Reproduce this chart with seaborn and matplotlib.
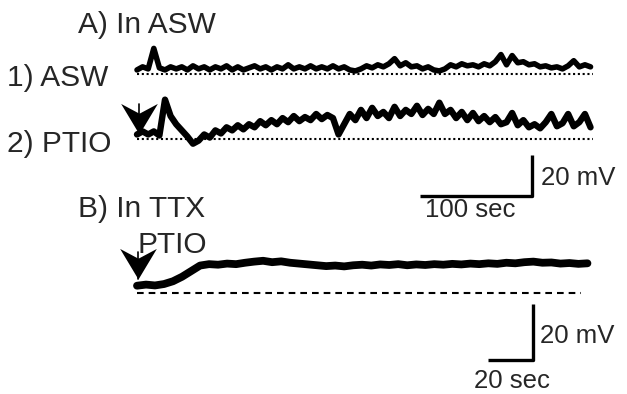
import numpy as np
import matplotlib
matplotlib.use("Agg")
import matplotlib.pyplot as plt
from matplotlib.path import Path
import seaborn as sns

# Panel A : enregistrements en ASW (mV au-dessus de la ligne de base), échantillon toutes les 5 s
dt_a = 5
asw_mv = [1.5, 3, 2, 12, 2.5, 1.5, 3, 2, 3, 1.5, 3.5, 2, 3, 1.5, 3, 2, 3.5, 1.5, 3, 1.5,
          2.5, 3.5, 2, 3, 1.5, 3, 2, 4, 2, 3,
          2, 3.5, 2, 3, 2, 3.5, 2, 3, 1.5, 1, 2, 3.5, 2.5, 4, 3, 4.5, 7, 3.5, 5, 3,
          3.5, 2, 3, 1.5, 1, 2, 4, 3, 4.5, 3.5, 4, 3, 4.5, 3.5, 5.5, 9, 4, 8.5, 5, 5.5,
          4, 4.5, 3, 3.5, 2.5, 3, 2, 3.5, 6, 3, 4, 3]
ptio_mv = [2, 3.5, 2, 3.5, 1.5, 19,
           11, 7, 4, 1, -2.5, -1, 2, 0.5, 4, 2.5, 5.5, 4, 6.5, 4.5, 7,
           5.5, 8.5, 6.5, 9, 7, 10, 8, 11, 8.5, 10.5, 9, 12, 9.5, 11.5, 10,
           2, 7, 12, 9, 14, 10, 15, 11, 13, 10, 15.5, 11, 14, 12, 16,
           11.5, 14.5, 12, 17.5, 12, 14, 10, 13, 9, 12.5, 8.5, 11, 8, 10.5, 7,
           8, 12.5, 6.5, 9, 5.5, 7, 5, 8, 12, 6, 7.5, 12, 6, 8, 12, 5.5]
ptio_offset = -32  # décalage vertical de la trace 2

# Panel B : en TTX, échantillon toutes les 4 s
dt_b = 4
ttx_mv = [2.6, 3.0, 2.7, 3.2, 4.2, 5.8, 7.8, 9.8, 10.3, 10.1,
          10.5, 10.3, 10.8, 11.2, 11.5, 11.0, 11.3, 10.8, 10.5, 10.2,
          9.9, 9.6, 9.8, 9.5, 9.9, 10.1, 9.8, 10.2, 10.0, 10.3,
          9.9, 10.2, 10.0, 10.3, 10.1, 10.4, 10.2, 10.5, 10.3, 10.6,
          10.4, 10.8, 10.6, 11.0, 11.2, 10.8, 10.9, 10.5, 10.7, 10.4, 10.6]

t_asw = np.arange(len(asw_mv)) * dt_a
t_ptio = np.arange(len(ptio_mv)) * dt_a
t_ttx = np.arange(len(ttx_mv)) * dt_b

sns.set_style("white")
plt.rcParams["font.family"] = ["Liberation Sans", "DejaVu Sans"]

W, H = 627, 394
fig = plt.figure(figsize=(W / 100, H / 100), dpi=100)


def fx(px):
    return px / W


def fy(py):
    return 1 - py / H


# pointe de flèche en chevron (pointe à l'origine)
chevron = Path([(0, 0), (-0.6, 1), (0, 0.68), (0.6, 1), (0, 0)],
               [Path.MOVETO, Path.LINETO, Path.LINETO, Path.LINETO, Path.CLOSEPOLY])


def arrow(ax, x, y_tip, y_top):
    ax.plot([x, x], [y_tip, y_top], color="black", lw=1.2)
    ax.plot([x], [y_tip], marker=chevron, ms=44, color="black", mew=0)


# axes A : 0.893 s/px, 0.488 mV/px, origine au pixel (137, 73)
axA = fig.add_axes([0, 0, 1, 1])
axA.set_xlim(-137 * 0.893, (W - 137) * 0.893)
axA.set_ylim((73 - H) * 0.488, 73 * 0.488)
axA.axis("off")

sns.lineplot(x=t_asw, y=asw_mv, ax=axA, color="black", lw=4, sort=False, estimator=None)
sns.lineplot(x=t_ptio, y=np.array(ptio_mv) + ptio_offset, ax=axA, color="black",
             lw=4.6, sort=False, estimator=None)
t_end = t_asw[-1] + 2
axA.plot([0, t_end], [-0.5, -0.5], color="black", lw=1.5, ls=(0, (1, 1.3)))
axA.plot([0, t_end], [ptio_offset, ptio_offset], color="black", lw=1.5, ls=(0, (1, 1.3)))
arrow(axA, 2, ptio_offset + 2, ptio_offset + 17)
# barre d'échelle A : 100 s / 20 mV
axA.plot([253, 353, 353], [-60, -60, -40], color="black", lw=2.4, solid_capstyle="butt")

# axes B : 0.444 s/px, 0.357 mV/px, origine au pixel (137, 293)
axB = fig.add_axes([0, 0, 1, 1])
axB.patch.set_alpha(0)
axB.set_xlim(-137 * 0.444, (W - 137) * 0.444)
axB.set_ylim((293 - H) * 0.357, 293 * 0.357)
axB.axis("off")

sns.lineplot(x=t_ttx, y=ttx_mv, ax=axB, color="black", lw=5.6, sort=False, estimator=None)
axB.plot([0, 197], [0, 0], color="black", lw=1.5, ls=(0, (3.2, 2.4)))
arrow(axB, 0.5, 5, 14.5)
# barre d'échelle B : 20 s / 20 mV
axB.plot([156, 176, 176], [-23.9, -23.9, -3.9], color="black", lw=2.4, solid_capstyle="butt")

# textes
big = 21.5
small = 18.5
fig.text(fx(78), fy(33), "A) In ASW", fontsize=big, va="baseline")
fig.text(fx(7), fy(86), "1) ASW", fontsize=big, va="baseline")
fig.text(fx(7), fy(152), "2) PTIO", fontsize=big, va="baseline")
fig.text(fx(78), fy(217), "B) In TTX", fontsize=big, va="baseline")
fig.text(fx(137), fy(253), "PTIO", fontsize=big, va="baseline")
fig.text(fx(541), fy(185), "20 mV", fontsize=small, va="baseline")
fig.text(fx(425), fy(217), "100 sec", fontsize=small, va="baseline")
fig.text(fx(540), fy(343), "20 mV", fontsize=small, va="baseline")
fig.text(fx(474), fy(388), "20 sec", fontsize=small, va="baseline")

fig.savefig("out.png", dpi=100, facecolor="white")
